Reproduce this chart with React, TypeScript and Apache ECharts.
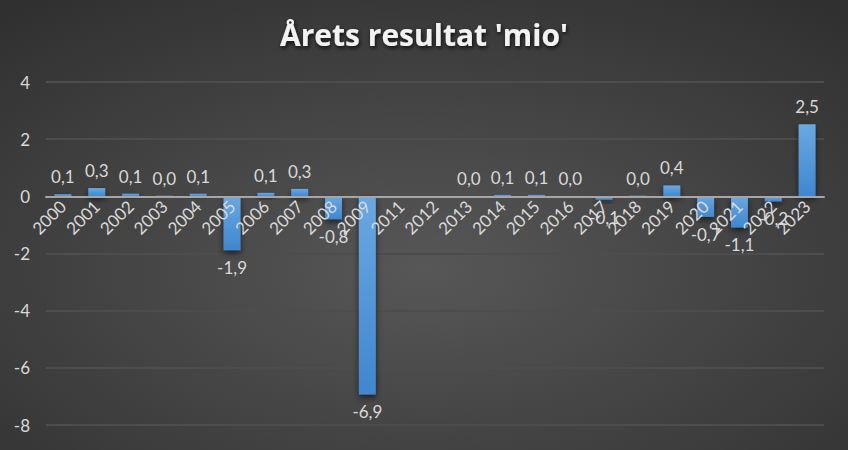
import React, { useEffect, useRef } from "react";
import * as echarts from "echarts";

const categories = ["2000","2001","2002","2003","2004","2005","2006","2007","2008","2009","2011","2012","2013","2014","2015","2016","2017","2018","2019","2020","2021","2022","2023"];
const values: (number | null)[] = [0.07, 0.29, 0.09, 0.02, 0.09, -1.89, 0.12, 0.26, -0.8, -6.93, null, null, 0.01, 0.05, 0.05, 0.01, -0.12, 0.02, 0.38, -0.72, -1.09, -0.18, 2.52];
const yMin = -8;
const yMax = 4;
const yInterval = 2;
const titleText = "Årets resultat 'mio'";

const fmt = (v: number) => v.toFixed(1).replace(".", ",");

const GRID = { left: 46, right: 24, top: 82, bottom: 25 };
const H = 450;

export default function App() {
  const ref = useRef<HTMLDivElement>(null);
  useEffect(() => {
    if (!ref.current) return;
    document.body.style.margin = "0";
    const chart = echarts.init(ref.current, undefined, { renderer: "svg" });
    const gridH = H - GRID.top - GRID.bottom;
    const zeroFromBottom = (gridH * (0 - yMin)) / (yMax - yMin);
    chart.setOption({
      animation: false,
      backgroundColor: {
        type: "radial",
        x: 0.5,
        y: 0.6,
        r: 0.95,
        colorStops: [
          { offset: 0, color: "#575757" },
          { offset: 1, color: "#262626" },
        ],
      },
      textStyle: { fontFamily: "Lato, 'Open Sans', sans-serif" },
      title: {
        text: titleText,
        left: "center",
        top: 14,
        textStyle: {
          color: "#f2f2f2",
          fontSize: 30,
          fontWeight: "bold",
          fontFamily: "'Open Sans', Lato, sans-serif",
          textShadowColor: "rgba(0,0,0,0.8)",
          textShadowBlur: 4,
          textShadowOffsetX: 1,
          textShadowOffsetY: 2,
        },
      },
      grid: { ...GRID, containLabel: false },
      xAxis: {
        type: "category",
        data: categories,
        offset: -zeroFromBottom,
        axisLine: { onZero: false, lineStyle: { color: "#a6a6a6", width: 2 } },
        axisTick: { show: false },
        axisLabel: {
          rotate: 45,
          color: "#d9d9d9",
          fontSize: 17,
          margin: 7,
          interval: 0,
        },
        z: 10,
      },
      yAxis: {
        type: "value",
        min: yMin,
        max: yMax,
        interval: yInterval,
        axisLine: { show: false },
        axisTick: { show: false },
        splitLine: { lineStyle: { color: "#4d4d4d", width: 2 } },
        axisLabel: { color: "#d9d9d9", fontSize: 17, margin: 16 },
      },
      series: [
        {
          type: "bar",
          barWidth: "50%",
          z: 2,
          data: values.map((v) =>
            v === null
              ? null
              : {
                  value: v,
                  label: { position: v < 0 ? "bottom" : "top" },
                }
          ),
          itemStyle: {
            color: {
              type: "linear",
              x: 0, y: 0, x2: 0, y2: 1,
              colorStops: [
                { offset: 0, color: "#6aa8e0" },
                { offset: 1, color: "#3f87cf" },
              ],
            },
            shadowColor: "rgba(0,0,0,0.6)",
            shadowBlur: 6,
            shadowOffsetY: 3,
          },
          label: {
            show: true,
            color: "#d9d9d9",
            fontSize: 17,
            distance: 9,
            formatter: (p: any) => fmt(p.value),
          },
        },
      ],
    });
    return () => chart.dispose();
  }, []);
  return <div ref={ref} style={{ width: 848, height: 450 }} />;
}
